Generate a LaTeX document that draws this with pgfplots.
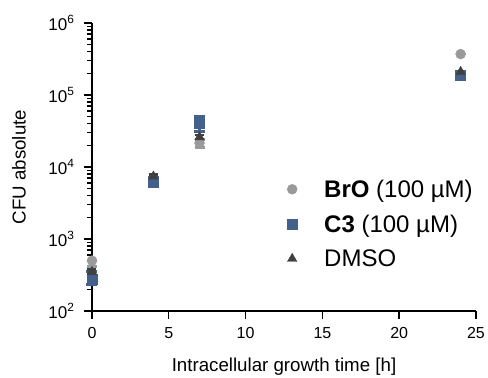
\documentclass[border=0pt]{standalone}
\usepackage{pgfplots}
\pgfplotsset{compat=1.18}
\usepackage{fontspec}
\setmainfont{Liberation Sans}
\definecolor{broc}{HTML}{9A9A9A}
\definecolor{c3c}{HTML}{44618C}
\definecolor{dmc}{HTML}{404040}
\begin{document}
\begin{tikzpicture}
\begin{axis}[
  name=ax,
  width=384pt, height=288pt, scale only axis,
  xmin=0, xmax=25, ymin=1e2, ymax=1e6,
  ymode=log,
  axis x line*=bottom, axis y line*=left,
  axis line style={line width=1.6pt},
  every tick/.style={black, line width=1.4pt},
  tick align=outside,
  major tick length=8pt, minor tick length=5pt,
  xtick={0,5,10,15,20,25},
  ytick={1e2,1e3,1e4,1e5,1e6},
  yticklabels={10\textsuperscript{2},10\textsuperscript{3},10\textsuperscript{4},10\textsuperscript{5},10\textsuperscript{6}},
  /pgf/number format/assume math mode=true,
  xticklabel style={font=\fontsize{16}{19}\selectfont, yshift=-5pt},
  yticklabel style={font=\fontsize{17}{20}\selectfont, xshift=-6pt},
  xlabel={Intracellular growth time [h]},
  ylabel={CFU absolute},
  label style={font=\fontsize{18.7}{22}\selectfont},
  xlabel style={at={(axis description cs:0.5,0)}, anchor=center, yshift=-56pt},
  ylabel style={at={(axis description cs:0,0.5)}, anchor=center, yshift=73pt},
  clip=false,
  legend style={draw=none, fill=none, at={(0.5,0.47)}, anchor=north west,
    font=\fontsize{24}{28}\selectfont, row sep=12pt,
    legend cell align=left},
  legend image code/.code={\path[draw=none] (0pt,0pt) -- (35pt,0pt); \draw[#1] plot coordinates {(5pt,0pt)};},
]
\addplot[only marks, mark=*, mark size=5pt, color=broc,
  error bars/.cd, y dir=both, y explicit,
  error bar style={line width=2.5pt},
  error mark options={rotate=90, mark size=5pt, line width=2.8pt}]
  table[x=t, y=y, y error plus=ep, y error minus=em] {
  t   y       ep     em
  0   500     0      80
  4   6200    0      0
  7   21500   2500   2800
  24  370000  0      0
};
\addlegendentry{\textbf{BrO} (100 µM)}
\addplot[only marks, mark=square*, mark size=5pt, color=c3c,
  error bars/.cd, y dir=both, y explicit,
  error bar style={line width=2.5pt},
  error mark options={rotate=90, mark size=5.5pt, line width=2.8pt}]
  table[x=t, y=y, y error plus=ep, y error minus=em] {
  t   y       ep     em
  0   280     75     46
  4   6300    900    900
  7   41000   9000   10000
  24  187000  0      0
};
\addlegendentry{\textbf{C3} (100 µM)}
\addplot[only marks, mark=triangle*, mark size=5.5pt, color=dmc,
  error bars/.cd, y dir=both, y explicit,
  error bar style={line width=2.5pt},
  error mark options={rotate=90, mark size=4.5pt, line width=2.5pt}]
  table[x=t, y=y, y error plus=ep, y error minus=em] {
  t   y       ep     em
  0   350     30     30
  4   7400    500    500
  7   26000   2000   2000
  24  210000  0      0
};
\addlegendentry{DMSO}
\end{axis}
\pgfresetboundingbox
\path[use as bounding box] ([xshift=-92pt,yshift=-67pt]ax.south west) rectangle ([xshift=12pt,yshift=23pt]ax.north east);
\end{tikzpicture}
\end{document}
